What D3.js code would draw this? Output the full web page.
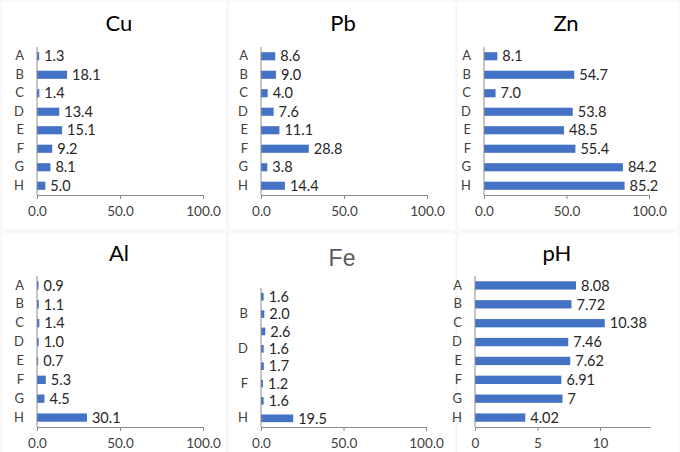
<!DOCTYPE html>
<html>
<head>
<meta charset="utf-8">
<script src="https://cdn.jsdelivr.net/npm/d3@7"></script>
<style>
  body { margin: 0; background: #fff; }
  text { font-family: Lato, "Open Sans", sans-serif; }
</style>
</head>
<body>
<div id="chart"></div>
<script>
const width = 680
const height = 452

// data
const categories = ['A', 'B', 'C', 'D', 'E', 'F', 'G', 'H']
const cu_values = [1.3, 18.1, 1.4, 13.4, 15.1, 9.2, 8.1, 5.0]
const pb_values = [8.6, 9.0, 4.0, 7.6, 11.1, 28.8, 3.8, 14.4]
const zn_values = [8.1, 54.7, 7.0, 53.8, 48.5, 55.4, 84.2, 85.2]
const al_values = [0.9, 1.1, 1.4, 1.0, 0.7, 5.3, 4.5, 30.1]
const fe_values = [1.6, 2.0, 2.6, 1.6, 1.7, 1.2, 1.6, 19.5]
const ph_values = [8.08, 7.72, 10.38, 7.46, 7.62, 6.91, 7, 4.02]
const fe_shown_categories = ['B', 'D', 'F', 'H']
const conc_ticks = [0, 50, 100]
const ph_ticks = [0, 5, 10]

const bar_color = '#4472C4'
const axis_color = '#8c8c8c'

const svg = d3.select('#chart')
    .append('svg')
    .attr('width', width)
    .attr('height', height)

// faint panel frames
const frames = [
    [1, 1, 226, 229], [228, 1, 228, 229], [457, 1, 222, 229],
    [1, 232, 226, 222], [228, 232, 228, 222], [457, 232, 222, 222]
]
frames.forEach(f => {
    svg.append('rect')
        .attr('x', f[0]).attr('y', f[1])
        .attr('width', f[2]).attr('height', f[3])
        .attr('fill', 'none')
        .attr('stroke', '#f2f2f2')
})

draw_panel({ title: 'Cu', values: cu_values, x0: 37, x1: 203, top: 47, bottom: 195, title_x: 119, title_y: 31 })
draw_panel({ title: 'Pb', values: pb_values, x0: 261, x1: 427, top: 47, bottom: 195, title_x: 343, title_y: 31 })
draw_panel({ title: 'Zn', values: zn_values, x0: 484, x1: 649, top: 47, bottom: 195, title_x: 566, title_y: 31 })
draw_panel({ title: 'Al', values: al_values, x0: 37, x1: 203, top: 276, bottom: 427, title_x: 119, title_y: 261 })
draw_panel({ title: 'Fe', values: fe_values, x0: 261, x1: 426, top: 288, bottom: 427, title_x: 342, title_y: 266,
             shown: fe_shown_categories, title_font: '"Liberation Sans", Arial, sans-serif', title_color: '#595959', title_size: 23 })
draw_panel({ title: 'pH', values: ph_values, x0: 475, x1: 650, top: 276, bottom: 427, title_x: 557, title_y: 261,
             domain: [0, 14], ticks: ph_ticks, fmt: d => String(d), tick_fmt: d3.format('d') })

function draw_panel(p) {
    const g = svg.append('g')
    const x = d3.scaleLinear()
        .domain(p.domain || [0, 100])
        .range([p.x0, p.x1])
    const y = d3.scaleBand()
        .domain(categories)
        .range([p.top, p.bottom])
        .paddingInner(0.56)
        .paddingOuter(0.28)
    const fmt = p.fmt || d3.format('.1f')
    const data = categories.map((c, i) => ({ cat: c, value: p.values[i] }))

    // title
    g.append('text')
        .attr('x', p.title_x)
        .attr('y', p.title_y)
        .attr('text-anchor', 'middle')
        .style('font-size', (p.title_size || 22) + 'px')
        .style('font-family', p.title_font || null)
        .attr('fill', p.title_color || '#000')
        .text(p.title)

    // bars
    g.selectAll('rect.bar')
        .data(data)
        .enter()
        .append('rect')
        .attr('class', 'bar')
        .attr('x', x(0))
        .attr('y', d => y(d.cat))
        .attr('width', d => x(d.value) - x(0))
        .attr('height', y.bandwidth())
        .attr('fill', bar_color)

    // value labels
    g.selectAll('text.val')
        .data(data)
        .enter()
        .append('text')
        .attr('class', 'val')
        .attr('x', d => x(d.value) + 5)
        .attr('y', d => y(d.cat) + y.bandwidth() / 2)
        .attr('dy', '0.36em')
        .style('font-size', '14.5px')
        .attr('fill', '#262626')
        .text(d => fmt(d.value))

    // x axis
    const x_axis = d3.axisBottom(x)
        .tickValues(p.ticks || conc_ticks)
        .tickFormat(p.tick_fmt || d3.format('.1f'))
        .tickSize(4)
        .tickSizeOuter(0)
        .tickPadding(7)
    const ax = g.append('g')
        .attr('transform', `translate(0,${p.bottom})`)
        .call(x_axis)
    ax.select('.domain').attr('stroke', axis_color)
    ax.selectAll('.tick line').attr('stroke', axis_color)
    ax.selectAll('.tick text')
        .style('font-size', '13.5px')
        .style('font-family', 'Lato, sans-serif')
        .attr('fill', '#404040')

    // y axis
    const y_axis = d3.axisLeft(y)
        .tickValues(p.shown || categories)
        .tickSize(0)
        .tickPadding(13)
    const ay = g.append('g')
        .attr('transform', `translate(${x(0)},0)`)
        .call(y_axis)
    ay.select('.domain').remove()
    ay.selectAll('.tick text')
        .style('font-size', '13px')
        .style('font-family', 'Lato, sans-serif')
        .attr('fill', '#404040')
    g.append('line')
        .attr('x1', x(0)).attr('x2', x(0))
        .attr('y1', p.top).attr('y2', p.bottom)
        .attr('stroke', axis_color)
}
</script>
</body>
</html>
